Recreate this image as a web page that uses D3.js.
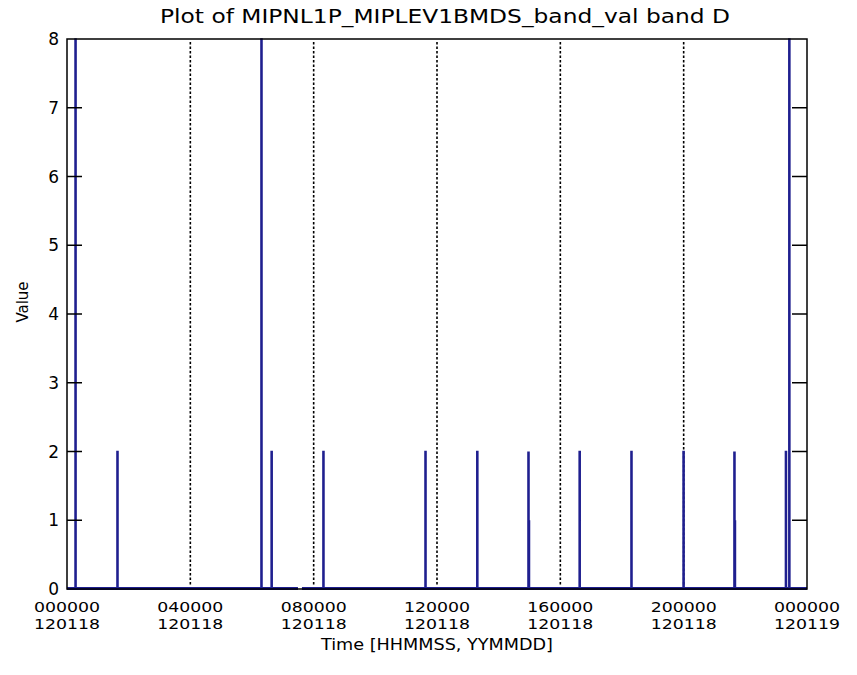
<!DOCTYPE html>
<html>
<head>
<meta charset="utf-8">
<script src="https://cdn.jsdelivr.net/npm/d3@7"></script>
<style>
  html, body { margin: 0; padding: 0; background: #ffffff; }
  svg { display: block; }
  text { font-family: "DejaVu Sans", "Liberation Sans", sans-serif; fill: #000; }
</style>
</head>
<body>
<script>
// ---- Data (hours since 000000 on 120118) ----
const titleText = "Plot of MIPNL1P_MIPLEV1BMDS_band_val band D";
const xTitle = "Time [HHMMSS, YYMMDD]";
const yTitle = "Value";
const xTickHours = [0, 4, 8, 12, 16, 20, 24];
const xTickTime = ["000000", "040000", "080000", "120000", "160000", "200000", "000000"];
const xTickDate = ["120118", "120118", "120118", "120118", "120118", "120118", "120119"];
const yTicks = [0, 1, 2, 3, 4, 5, 6, 7, 8];
const spikeTimes  = [0.26, 1.62, 6.29, 6.62, 8.30, 11.61, 13.29, 14.95, 16.61, 18.29, 19.98, 21.63, 23.30, 23.41];
const spikeValues = [8,    2,    8,    2,    2,    2,     2,     2,     2,     2,     2,     2,     2,     8];
const minorTimes  = [14.97, 21.65];
const minorValues = [1, 1];
const gapStart = 7.49, gapEnd = 7.62;

// ---- Layout ----
const W = 857, H = 675;
const m = { left: 67, right: 50, top: 39, bottom: 86 };
const svg = d3.select("body").append("svg").attr("width", W).attr("height", H);

const x = d3.scaleLinear().domain([0, 24]).range([m.left, W - m.right]);
const y = d3.scaleLinear().domain([0, 8]).range([H - m.bottom, m.top]);

const lineColor = "#1f1f8f";

// dotted grid at x ticks
svg.append("g").selectAll("line")
  .data(xTickHours.slice(1, -1))
  .join("line")
  .attr("x1", d => x(d)).attr("x2", d => x(d))
  .attr("y1", y(8) + 3).attr("y2", y(0) - 4)
  .attr("stroke", "#000").attr("stroke-width", 1.6)
  .attr("stroke-dasharray", "2.5,2");

// build series: baseline + spikes
const pts = [];
const events = spikeTimes.map((t, i) => ({ t, v: spikeValues[i], w: 0.035 }))
  .concat(minorTimes.map((t, i) => ({ t, v: minorValues[i], w: 0.03 })))
  .sort((a, b) => a.t - b.t);

pts.push({ t: 0, v: 0 });
events.forEach(e => {
  pts.push({ t: e.t, v: 0 });
  pts.push({ t: e.t, v: e.v });
  pts.push({ t: e.t + e.w, v: e.v });
  pts.push({ t: e.t + e.w, v: 0 });
});
pts.push({ t: gapStart, v: 0 });
pts.push({ t: gapStart, v: null });
pts.push({ t: gapEnd, v: 0 });
pts.push({ t: 24, v: 0 });
pts.sort((a, b) => a.t - b.t);

const line = d3.line()
  .defined(d => d.v !== null)
  .x(d => x(d.t)).y(d => y(d.v));

svg.append("clipPath").attr("id", "clip")
  .append("rect").attr("x", m.left).attr("y", m.top - 1)
  .attr("width", x(24) - m.left).attr("height", y(0) - m.top + 3);

// spikes
svg.append("path")
  .datum(pts)
  .attr("clip-path", "url(#clip)")
  .attr("fill", "none")
  .attr("stroke", lineColor)
  .attr("stroke-width", 1.5)
  .attr("d", line);

// baseline (thicker)
const base = pts.filter(d => d.v === 0 || d.v === null);
svg.append("path")
  .datum(base)
  .attr("fill", "none")
  .attr("stroke", lineColor)
  .attr("stroke-width", 3)
  .attr("d", d3.line().defined(d => d.v !== null).x(d => x(d.t)).y(() => y(0) - 0.5));

// frame
svg.append("rect")
  .attr("x", m.left).attr("y", m.top)
  .attr("width", x(24) - m.left).attr("height", y(0) - m.top)
  .attr("fill", "none").attr("stroke", "#000").attr("stroke-width", 1.5);

// y ticks left and right (inward)
const tl = 15;
svg.append("g").selectAll("line").data(yTicks.slice(1, -1)).join("line")
  .attr("x1", m.left).attr("x2", m.left + tl)
  .attr("y1", d => y(d)).attr("y2", d => y(d))
  .attr("stroke", "#000").attr("stroke-width", 1.5);
svg.append("g").selectAll("line").data(yTicks.slice(1, -1)).join("line")
  .attr("x1", x(24)).attr("x2", x(24) - tl)
  .attr("y1", d => y(d)).attr("y2", d => y(d))
  .attr("stroke", "#000").attr("stroke-width", 1.5);

// y labels
svg.append("g").selectAll("text").data(yTicks).join("text")
  .attr("x", m.left - 8).attr("y", d => y(d))
  .attr("dy", "0.36em")
  .attr("text-anchor", "end")
  .attr("font-size", 17)
  .text(d => d);

// x labels (two lines)
const xl = svg.append("g").selectAll("g").data(xTickHours).join("g");
xl.append("text")
  .attr("x", d => x(d)).attr("y", y(0) + 23)
  .attr("text-anchor", "middle").attr("font-size", 14)
  .attr("textLength", 66).attr("lengthAdjust", "spacingAndGlyphs")
  .text((d, i) => xTickTime[i]);
xl.append("text")
  .attr("x", d => x(d)).attr("y", y(0) + 40)
  .attr("text-anchor", "middle").attr("font-size", 14)
  .attr("textLength", 66).attr("lengthAdjust", "spacingAndGlyphs")
  .text((d, i) => xTickDate[i]);

// titles
svg.append("text")
  .attr("x", 445).attr("y", 23)
  .attr("text-anchor", "middle").attr("font-size", 19)
  .attr("textLength", 570).attr("lengthAdjust", "spacingAndGlyphs")
  .text(titleText);
svg.append("text")
  .attr("x", (m.left + x(24)) / 2).attr("y", y(0) + 61)
  .attr("text-anchor", "middle").attr("font-size", 16)
  .attr("textLength", 232).attr("lengthAdjust", "spacingAndGlyphs")
  .text(xTitle);
svg.append("text")
  .attr("transform", `translate(28, ${y(4) - 12}) rotate(-90)`)
  .attr("text-anchor", "middle").attr("font-size", 15)
  .text(yTitle);
</script>
</body>
</html>
